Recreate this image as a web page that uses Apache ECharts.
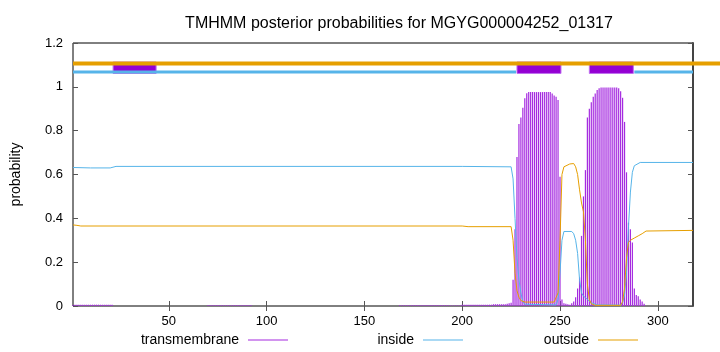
<!DOCTYPE html>
<html>
<head>
<meta charset="utf-8">
<script src="https://cdn.jsdelivr.net/npm/echarts@6/dist/echarts.min.js"></script>
<style>
  html, body { margin: 0; padding: 0; background: #fff; }
  #chart { width: 720px; height: 352px; }
</style>
</head>
<body>
<div id="chart"></div>
<script>
// posterior probability of transmembrane per residue (1..318), 10 per row
const tmProb = [
  0.004, 0.006, 0.006, 0.006, 0.006, 0.006, 0.006, 0.006, 0.006, 0.006,
  0.006, 0.006, 0.006, 0.006, 0.006, 0.006, 0.006, 0.006, 0.006, 0.006,
  0.006, 0, 0, 0, 0, 0, 0, 0, 0, 0,
  0, 0, 0, 0, 0, 0, 0, 0, 0, 0,
  0, 0, 0, 0, 0, 0, 0, 0, 0, 0,
  0, 0, 0, 0, 0, 0, 0, 0, 0, 0,
  0, 0, 0, 0, 0, 0, 0, 0, 0, 0.003,
  0.003, 0.003, 0.003, 0.003, 0.003, 0.003, 0.003, 0.003, 0.003, 0.003,
  0.003, 0.003, 0.003, 0.003, 0.003, 0.003, 0.003, 0.003, 0.003, 0.003,
  0.003, 0.003, 0, 0, 0, 0, 0, 0, 0, 0,
  0, 0, 0, 0, 0, 0, 0, 0, 0, 0,
  0, 0, 0, 0, 0, 0, 0, 0, 0, 0,
  0, 0, 0, 0, 0, 0, 0, 0, 0, 0,
  0, 0, 0, 0, 0, 0, 0, 0, 0, 0,
  0, 0, 0, 0, 0, 0, 0, 0, 0, 0,
  0, 0, 0, 0, 0, 0, 0, 0, 0, 0,
  0, 0, 0, 0, 0, 0, 0, 0.003, 0.003, 0.003,
  0.003, 0.003, 0.003, 0.003, 0.003, 0.003, 0.003, 0.003, 0.003, 0.003,
  0.003, 0.003, 0.003, 0.003, 0.003, 0.003, 0.003, 0.003, 0.003, 0.003,
  0.003, 0.003, 0.003, 0.002, 0.002, 0.002, 0.002, 0.002, 0.002, 0.006,
  0.006, 0.006, 0.006, 0.006, 0.006, 0.006, 0.006, 0.006, 0.006, 0.006,
  0.006, 0.006, 0.006, 0.006, 0.006, 0.008, 0.008, 0.008, 0.008, 0.008,
  0.008, 0.008, 0.01, 0.012, 0.015, 0.12, 0.35, 0.68, 0.83, 0.86,
  0.905, 0.948, 0.971, 0.976, 0.976, 0.976, 0.976, 0.976, 0.976, 0.976,
  0.976, 0.976, 0.976, 0.976, 0.976, 0.97, 0.96, 0.955, 0.94, 0.59,
  0.03, 0.012, 0.01, 0.008, 0.006, 0.012, 0.02, 0.04, 0.08, 0.13,
  0.32, 0.5, 0.62, 0.86, 0.9, 0.93, 0.955, 0.97, 0.985, 0.993,
  0.997, 0.997, 0.997, 0.997, 0.997, 0.997, 0.997, 0.997, 0.997, 0.993,
  0.98, 0.95, 0.84, 0.61, 0.38, 0.35, 0.29, 0.08, 0.05, 0.045,
  0.03, 0.02, 0.01, 0, 0, 0, 0, 0, 0, 0,
  0, 0, 0, 0, 0, 0, 0, 0, 0, 0,
  0, 0, 0, 0, 0, 0, 0, 0
]

// inside / outside curves: [residue, probability] vertices
const insideProb = [
  [1, 0.632], [10, 0.63], [20, 0.63], [23, 0.637], [200, 0.637], [225, 0.635],
  [226, 0.58], [227, 0.4], [228, 0.22], [229, 0.12], [230, 0.06], [231, 0.02],
  [232, 0.008], [248, 0.005], [249, 0.03], [250, 0.15], [251, 0.3], [252, 0.34],
  [256, 0.34], [257, 0.33], [258, 0.3], [259, 0.24], [260, 0.12], [261, 0.06],
  [262, 0.045], [264, 0.03], [266, 0.015], [269, 0.005], [281, 0.004], [282, 0.015],
  [283, 0.05], [284, 0.15], [285, 0.36], [286, 0.52], [287, 0.61], [288, 0.64],
  [289, 0.648], [291, 0.655], [318, 0.655]
]
const outsideProb = [
  [1, 0.37], [3, 0.368], [5, 0.365], [200, 0.365], [203, 0.362], [225, 0.362],
  [226, 0.3], [227, 0.15], [228, 0.07], [229, 0.04], [230, 0.025], [232, 0.018],
  [247, 0.018], [248, 0.025], [249, 0.06], [250, 0.3], [251, 0.6], [252, 0.635],
  [253, 0.64], [255, 0.648], [256, 0.655], [257, 0.65], [258, 0.635], [259, 0.6],
  [260, 0.53], [261, 0.47], [262, 0.43], [263, 0.3], [264, 0.1], [265, 0.03],
  [266, 0.01], [268, 0.003], [281, 0.003], [282, 0.02], [283, 0.08], [284, 0.22],
  [285, 0.29], [286, 0.3], [287, 0.305], [288, 0.31], [289, 0.315], [290, 0.32],
  [291, 0.325], [292, 0.33], [293, 0.337], [294, 0.342], [295, 0.345], [318, 0.345]
]

// predicted topology bars at the top
const tmSegments = [[21.5, 43.5], [228, 250.5], [265, 287.5]]
const insideSegments = [[1, 227.5], [288, 318]]
const outsideSegments = [[1, 332]]

const xTicks = [50, 100, 150, 200, 250, 300]

const purple = '#9400d3'
const blue = '#56b4e9'
const orange = '#e69f00'

let myChart = echarts.init(document.getElementById('chart'))

const segLine = (segs, y) => {
  let out = []
  segs.forEach((s, i) => {
    if (i > 0) out.push([null, null])
    out.push([s[0], y], [s[1], y])
  })
  return out
}

const tickStyle = { show: true, inside: true, length: 5, lineStyle: { color: '#555' } }

myChart.setOption({
  animation: false,
  textStyle: { fontFamily: 'Liberation Sans, Arial, sans-serif' },
  title: {
    text: 'TMHMM posterior probabilities for MGYG000004252_01317',
    left: 394,
    top: 11,
    textAlign: 'center',
    textStyle: { fontSize: 16, fontWeight: 'normal', color: '#000' }
  },
  grid: [
    {
      left: 73, right: 27, top: 43, bottom: 46,
      show: true, borderColor: '#000', borderWidth: 1, backgroundColor: 'transparent'
    },
    // same scale, stretched to the right edge of the picture for the outside bar
    { left: 73, right: 0, top: 43, bottom: 46 }
  ],
  legend: [
    { data: ['transmembrane'], right: 432, top: 333 },
    { data: ['inside'], right: 257, top: 333 },
    { data: ['outside'], right: 82, top: 333 }
  ].map(l => Object.assign(l, {
    align: 'right', padding: 0, itemWidth: 40, itemHeight: 1, icon: 'rect',
    textStyle: { fontSize: 14, color: '#000', padding: [0, 4, 0, 0] }
  })),
  xAxis: [
    {
      type: 'value', min: 1, max: 318, position: 'bottom',
      axisLine: { show: false },
      axisTick: Object.assign({ customValues: xTicks }, tickStyle),
      axisLabel: { customValues: xTicks, color: '#000', fontSize: 13, margin: 9 },
      splitLine: { show: false }
    },
    {
      type: 'value', min: 1, max: 318, position: 'top',
      axisLine: { show: false },
      axisTick: Object.assign({ customValues: xTicks }, tickStyle),
      axisLabel: { show: false },
      splitLine: { show: false }
    },
    {
      type: 'value', gridIndex: 1, min: 1, max: 331.8, show: false
    }
  ],
  yAxis: [
    {
      type: 'value', min: 0, max: 1.2, interval: 0.2, position: 'left',
      name: 'probability', nameLocation: 'middle', nameGap: 50, nameRotate: 90,
      nameTextStyle: { fontSize: 14, color: '#000' },
      axisLine: { show: false },
      axisTick: tickStyle,
      axisLabel: { color: '#000', fontSize: 13, margin: 10 },
      splitLine: { show: false }
    },
    {
      type: 'value', min: 0, max: 1.2, interval: 0.2, position: 'right',
      axisLine: { show: true, lineStyle: { color: '#444', width: 2 } },
      axisTick: tickStyle,
      axisLabel: { show: false },
      splitLine: { show: false }
    },
    {
      type: 'value', gridIndex: 1, min: 0, max: 1.2, show: false
    }
  ],
  series: [
    {
      name: 'transmembrane',
      type: 'bar',
      barWidth: 1.2,
      itemStyle: { color: '#a52ae0' },
      data: tmProb.map((v, i) => [i + 1, v])
    },
    {
      name: 'inside',
      type: 'line',
      showSymbol: false,
      lineStyle: { color: blue, width: 1 },
      itemStyle: { color: blue },
      data: insideProb
    },
    {
      name: 'outside',
      type: 'line',
      showSymbol: false,
      lineStyle: { color: orange, width: 1 },
      itemStyle: { color: orange },
      data: outsideProb
    },
    {
      type: 'line',
      xAxisIndex: 2,
      yAxisIndex: 2,
      showSymbol: false,
      lineStyle: { color: orange, width: 4 },
      data: segLine(outsideSegments, 1.107)
    },
    {
      type: 'line',
      showSymbol: false,
      connectNulls: false,
      lineStyle: { color: blue, width: 3 },
      data: segLine(insideSegments, 1.068)
    },
    {
      type: 'custom',
      renderItem (params, api) {
        let p0 = api.coord([api.value(0), 1.113])
        let p1 = api.coord([api.value(1), 1.061])
        return {
          type: 'rect',
          shape: { x: p0[0], y: p0[1], width: p1[0] - p0[0], height: p1[1] - p0[1] },
          style: { fill: purple, stroke: '#c070f0', lineWidth: 1 }
        }
      },
      data: tmSegments
    }
  ]
})
</script>
</body>
</html>
